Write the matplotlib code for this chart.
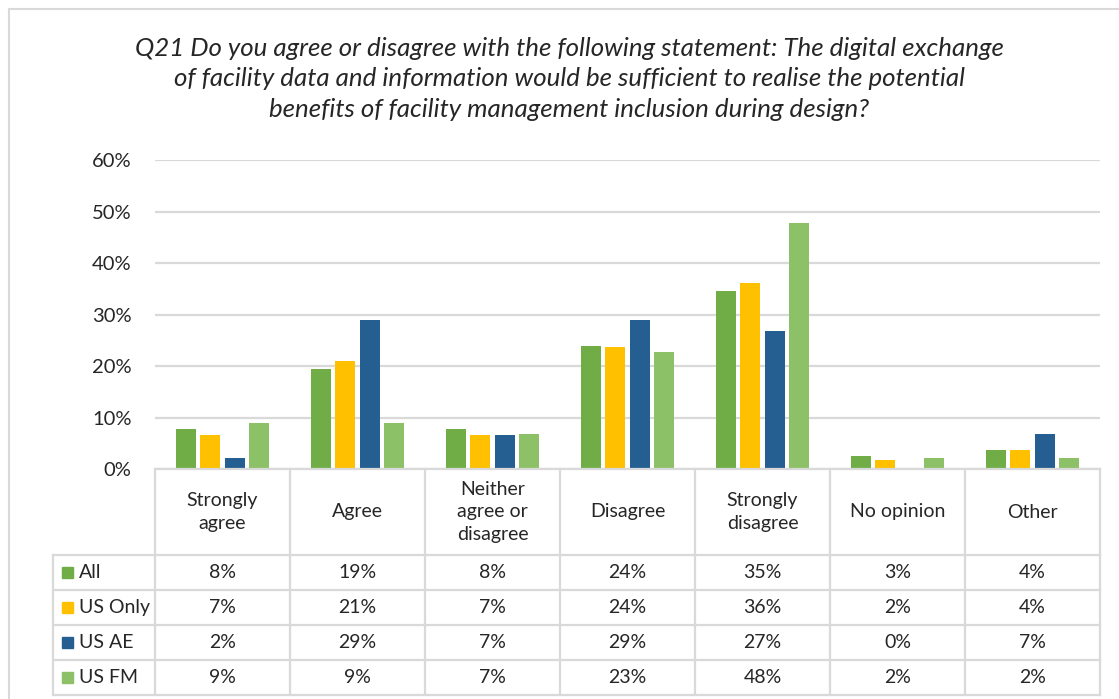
import matplotlib
matplotlib.use("Agg")
import matplotlib.pyplot as plt
from matplotlib.patches import Rectangle

# survey answers, percent of respondents per group
categories = ["Strongly\nagree", "Agree", "Neither\nagree or\ndisagree", "Disagree",
              "Strongly\ndisagree", "No opinion", "Other"]
series_names = ["All", "US Only", "US AE", "US FM"]
all_vals = [7.8, 19.4, 7.8, 23.8, 34.6, 2.6, 3.6]
us_only = [6.6, 20.9, 6.6, 23.7, 36.1, 1.8, 3.6]
us_ae = [2.2, 28.9, 6.6, 28.9, 26.7, 0.0, 6.7]
us_fm = [8.9, 8.9, 6.7, 22.7, 47.7, 2.2, 2.2]
yticks = [0, 10, 20, 30, 40, 50, 60]

series = [all_vals, us_only, us_ae, us_fm]
colors = ["#70AD47", "#FFC000", "#255E91", "#8CC168"]

title = ("Q21 Do you agree or disagree with the following statement: The digital exchange\n"
         "of facility data and information would be sufficient to realise the potential\n"
         "benefits of facility management inclusion during design?")

plt.rcParams['font.family'] = ['Lato', 'DejaVu Sans']
txt = "#262626"
grid = "#D9D9D9"

W, H = 1119, 699
fig = plt.figure(figsize=(W / 100, H / 100), dpi=100)


def frac(x0, y0, x1, y1):
    return [x0 / W, 1 - y1 / H, (x1 - x0) / W, (y1 - y0) / H]


# outer chart border
fig.add_artist(plt.Line2D([9 / W, 1], [1 - 9 / H, 1 - 9 / H], color=grid, lw=1.5))
fig.add_artist(plt.Line2D([9 / W, 9 / W], [0, 1 - 9 / H], color=grid, lw=1.5))

fig.text(569 / W, 1 - 79 / H, title, ha='center', va='center', fontsize=18.6,
         style='italic', color=txt, linespacing=1.42)

ax = fig.add_axes(frac(155, 160, 1100, 469))
n = len(categories)
step = 0.181
for i, (vals, c) in enumerate(zip(series, colors)):
    xs = [k + (i - 1.5) * step for k in range(n)]
    ax.bar(xs, vals, width=0.145, color=c, zorder=3)
ax.set_xlim(-0.5, n - 0.5)
ax.set_ylim(0, 60)
ax.set_yticks(yticks)
ax.set_yticklabels([f"{t}%" for t in yticks], fontsize=14.5, color=txt)
ax.tick_params(axis='y', length=0, pad=17)
ax.set_xticks([])
ax.yaxis.grid(True, color=grid, lw=1.6, zorder=0)
for s in ax.spines.values():
    s.set_visible(False)

# data table under the bars
tab = fig.add_axes(frac(155, 469, 1100, 695))
tab.set_xlim(-0.5, n - 0.5)
tab.set_ylim(226, 0)
tab.axis('off')
left = (53 - 155) / 135 - 0.5
head = 86
row_h = 35
kw = dict(color=grid, lw=1.6, clip_on=False)
tab.plot([-0.5, n - 0.5], [0, 0], **kw)
for r in range(len(series) + 1):
    y = head + r * row_h
    tab.plot([left, n - 0.5], [y, y], **kw)
for k in range(n + 1):
    tab.plot([k - 0.5, k - 0.5], [0, 226], **kw)
tab.plot([left, left], [head, 226], **kw)

for k, cat in enumerate(categories):
    tab.text(k, head / 2, cat, ha='center', va='center', fontsize=14,
             color=txt, linespacing=1.4)
for r, (name, vals, c) in enumerate(zip(series_names, series, colors)):
    yc = head + r * row_h + row_h / 2
    tab.add_patch(Rectangle((left + 9 / 135, yc - 5.5), 11 / 135, 11,
                            color=c, clip_on=False))
    tab.text(left + 26 / 135, yc, name, ha='left', va='center', fontsize=14,
             color=txt)
    for k, v in enumerate(vals):
        tab.text(k, yc, f"{v:.0f}%", ha='center', va='center', fontsize=14,
                 color=txt)

fig.savefig("out.png", dpi=100)
